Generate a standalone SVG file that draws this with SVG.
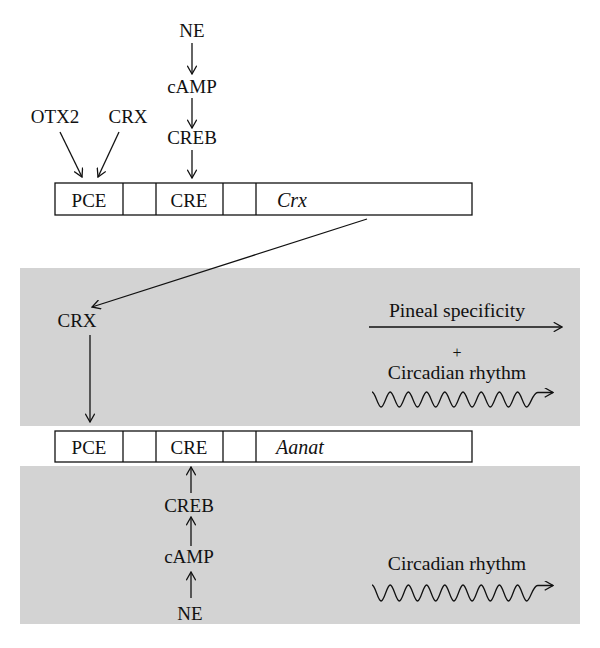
<svg xmlns="http://www.w3.org/2000/svg" width="600" height="648" viewBox="0 0 600 648">
<style>
text{font-family:"Liberation Serif","Times New Roman",serif;font-size:19px;fill:#111}
.c{text-anchor:middle}
.i{font-style:italic;font-size:20px}
.w{font-size:19.7px}
.p{font-size:16px}
.box{fill:#fff;stroke:#111;stroke-width:1.3}
.ln{fill:none;stroke:#111;stroke-width:1.3}
.band{fill:#d3d3d3}
</style>
<defs>
<marker id="a" viewBox="0 0 10 10" refX="9.3" refY="5" markerWidth="10" markerHeight="10" markerUnits="userSpaceOnUse" orient="auto">
<path d="M1,0.3 L9.3,5 L1,9.7" fill="none" stroke="#111" stroke-width="1.3"/>
</marker>
</defs>
<rect class="band" x="20" y="268" width="560" height="158"/>
<rect class="band" x="20" y="466" width="560" height="158"/>

<g id="crx-gene">
<rect class="box" x="55" y="183" width="417" height="32"/>
<line class="ln" x1="123" y1="183" x2="123" y2="215"/>
<line class="ln" x1="156" y1="183" x2="156" y2="215"/>
<line class="ln" x1="223" y1="183" x2="223" y2="215"/>
<line class="ln" x1="256" y1="183" x2="256" y2="215"/>
<text class="c" x="89" y="207">PCE</text>
<text class="c" x="189" y="207">CRE</text>
<text class="i" x="277" y="207">Crx</text>
</g>

<g id="aanat-gene">
<rect class="box" x="55" y="431" width="417" height="31"/>
<line class="ln" x1="123" y1="431" x2="123" y2="462"/>
<line class="ln" x1="156" y1="431" x2="156" y2="462"/>
<line class="ln" x1="223" y1="431" x2="223" y2="462"/>
<line class="ln" x1="256" y1="431" x2="256" y2="462"/>
<text class="c" x="89" y="454">PCE</text>
<text class="c" x="189" y="454">CRE</text>
<text class="i" x="276" y="454">Aanat</text>
</g>

<g id="top-ne"><text class="c" x="192" y="37">NE</text></g>
<g id="top-camp"><text class="c" x="192" y="93">cAMP</text></g>
<g id="top-creb"><text class="c" x="192" y="144">CREB</text></g>
<g id="top-otx2"><text class="c" x="55" y="123">OTX2</text></g>
<g id="top-crx"><text class="c" x="128" y="123">CRX</text></g>
<g id="crx-protein"><text class="c" x="77" y="327">CRX</text></g>
<g id="bot-creb"><text class="c" x="189" y="512">CREB</text></g>
<g id="bot-camp"><text class="c" x="189" y="563">cAMP</text></g>
<g id="bot-ne"><text class="c" x="190" y="620">NE</text></g>

<g id="pineal">
<text class="c w" x="457" y="317">Pineal specificity</text>
<text class="c p" x="457" y="357.5">+</text>
<text class="c w" x="457" y="379">Circadian rhythm</text>
</g>
<g id="circadian-bottom">
<text class="c w" x="457" y="570">Circadian rhythm</text>
</g>

<g id="connectors">
<line class="ln" x1="192" y1="43" x2="192" y2="74" marker-end="url(#a)"/>
<line class="ln" x1="192" y1="98" x2="192" y2="128" marker-end="url(#a)"/>
<line class="ln" x1="192" y1="150" x2="192" y2="178" marker-end="url(#a)"/>
<line class="ln" x1="60" y1="132" x2="82" y2="177" marker-end="url(#a)"/>
<line class="ln" x1="119" y1="132" x2="98" y2="177" marker-end="url(#a)"/>
<line class="ln" x1="367" y1="219" x2="92" y2="307" marker-end="url(#a)"/>
<line class="ln" x1="90" y1="335" x2="90" y2="422" marker-end="url(#a)"/>
<line class="ln" x1="191" y1="493" x2="191" y2="467" marker-end="url(#a)"/>
<line class="ln" x1="191" y1="546" x2="191" y2="517" marker-end="url(#a)"/>
<line class="ln" x1="191" y1="598" x2="191" y2="572" marker-end="url(#a)"/>
<line class="ln" x1="369" y1="327" x2="562" y2="327" marker-end="url(#a)"/>
<path class="ln" marker-end="url(#a)" d="M372,392 c3.3,0 5.8,15 9.1,15 c3.3,0 5.8,-15 9.1,-15 c3.3,0 5.8,15 9.1,15 c3.3,0 5.8,-15 9.1,-15 c3.3,0 5.8,15 9.1,15 c3.3,0 5.8,-15 9.1,-15 c3.3,0 5.8,15 9.1,15 c3.3,0 5.8,-15 9.1,-15 c3.3,0 5.8,15 9.1,15 c3.3,0 5.8,-15 9.1,-15 c3.3,0 5.8,15 9.1,15 c3.3,0 5.8,-15 9.1,-15 c3.3,0 5.8,15 9.1,15 c3.3,0 5.8,-15 9.1,-15 c3.3,0 5.8,15 9.1,15 c3.3,0 5.8,-15 9.1,-15 c3.3,0 5.8,15 9.1,15 c3.3,0 6,-14.5 11,-14.5 L553,392.5"/>
<path class="ln" marker-end="url(#a)" d="M372,585 c3.3,0 5.8,16 9.1,16 c3.3,0 5.8,-16 9.1,-16 c3.3,0 5.8,16 9.1,16 c3.3,0 5.8,-16 9.1,-16 c3.3,0 5.8,16 9.1,16 c3.3,0 5.8,-16 9.1,-16 c3.3,0 5.8,16 9.1,16 c3.3,0 5.8,-16 9.1,-16 c3.3,0 5.8,16 9.1,16 c3.3,0 5.8,-16 9.1,-16 c3.3,0 5.8,16 9.1,16 c3.3,0 5.8,-16 9.1,-16 c3.3,0 5.8,16 9.1,16 c3.3,0 5.8,-16 9.1,-16 c3.3,0 5.8,16 9.1,16 c3.3,0 5.8,-16 9.1,-16 c3.3,0 5.8,16 9.1,16 c3.3,0 6,-15.5 11,-15.5 L553,585.5"/>
</g>
</svg>
